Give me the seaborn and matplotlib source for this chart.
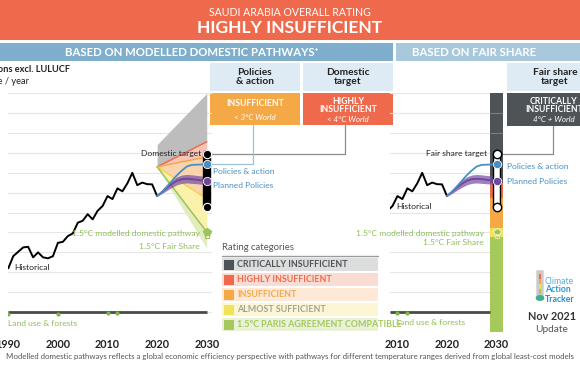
import numpy as np
import pandas as pd
import seaborn as sns
import matplotlib.pyplot as plt
from matplotlib.patches import Rectangle, FancyBboxPatch
from matplotlib.lines import Line2D

# --- data (MtCO2e / year) ---
hist_years = list(range(1990, 2021))
hist_vals = [220, 281, 303, 325, 328, 275, 300, 275, 270, 281,
             348, 353, 382, 395, 449, 459, 492, 466, 509, 533,
             583, 568, 622, 607, 647, 700, 638, 651, 643, 642, 583]

proj_years = list(range(2020, 2031))
policy_vals = [583, 605, 632, 660, 688, 712, 732, 740, 741, 742, 742]
planned_mid = [583, 604, 626, 645, 660, 668, 670, 668, 665, 662, 660]
planned_lo = [583, 596, 612, 627, 640, 647, 649, 647, 645, 643, 641]
planned_hi = [583, 612, 640, 663, 680, 689, 692, 690, 687, 684, 680]

fan_years = [2020, 2030]
grey_hi = [842, 1100]
grey_lo = [730, 856]
red_lo = [730, 780]
orange_lo = [730, 570]
yellow_lo = [730, 403]
green_lo = [730, 320]

target_range = [529, 797]  # domestic target and fair share target (same values)
marker_15_domestic = 403
marker_15_fair = 380

fs_edges = [1100, 648, 571, 425, 378, -100]  # fair share bar at 2030

lu_years = [1990, 2000, 2010, 2012]
lu_vals = [-12, -12, -7, -7]

cat_names = ["CRITICALLY INSUFFICIENT", "HIGHLY INSUFFICIENT", "INSUFFICIENT",
             "ALMOST SUFFICIENT", "1.5°C PARIS AGREEMENT COMPATIBLE"]
cat_colors = ["#4d5357", "#ef6a4c", "#f4a946", "#f0e35a", "#a5c95a"]
cat_pale = ["#dcdddd", "#fbdcd3", "#fde9d6", "#fcf6d5", "#e9f1d9"]
cat_text = ["#4d5357", "#ef6a4c", "#f4a946", "#a3a396", "#a5c95a"]

left_ticks = [1990, 2000, 2010, 2020, 2030]
right_ticks = [2010, 2020, 2030]

# --- style ---
sns.set_theme(style="white")
plt.rcParams["font.family"] = ["Lato", "DejaVu Sans"]

W, H = 580, 366
BLUE = "#4a8fc3"
PURPLE = "#6f4a9c"
GREEN = "#8dbf57"
DARK = "#222222"


def fx(x):
    return x / W


def fy(y):
    return 1 - y / H


fig = plt.figure(figsize=(5.8, 3.66), dpi=100)


def box(x0, y0, x1, y1, color, z=0):
    fig.add_artist(Rectangle((fx(x0), fy(y1)), (x1 - x0) / W, (y1 - y0) / H,
                             transform=fig.transFigure, color=color, lw=0, zorder=z))


def ftext(x, y, s, **kw):
    kw.setdefault("ha", "center")
    kw.setdefault("va", "center")
    fig.text(fx(x), fy(y), s, **kw)


# header
box(0, 0, 580, 40, "#ef6a4c")
ftext(290, 13, "SAUDI ARABIA OVERALL RATING", color="white", fontsize=7.6)
ftext(290, 28, "HIGHLY INSUFFICIENT", color="white", fontsize=12.5, fontweight="bold")
box(0, 43, 393, 61, "#7eaecb")
box(396, 43, 580, 61, "#a8c8dc")
ftext(192, 52, "BASED ON MODELLED DOMESTIC PATHWAYS⁺", color="white", fontsize=8.2, fontweight="bold")
ftext(474, 52, "BASED ON FAIR SHARE", color="white", fontsize=8.2, fontweight="bold")

# rating boxes
box(210, 63, 300, 91, "#deeaf4")
box(303, 63, 393, 91, "#deeaf4")
box(507, 63, 580, 91, "#deeaf4")
ftext(255, 77, "Policies\n& action", color=DARK, fontsize=7.3, fontweight="bold", linespacing=1.1)
ftext(348, 77, "Domestic\ntarget", color=DARK, fontsize=7.3, fontweight="bold", linespacing=1.1)
ftext(555, 77, "Fair share\ntarget", color=DARK, fontsize=7.3, fontweight="bold", linespacing=1.1)
box(210, 93, 300, 125, "#f4a946")
box(303, 93, 393, 125, "#ef6a4c")
box(507, 93, 580, 126, "#4d5357")
ftext(255, 104, "INSUFFICIENT", color="white", fontsize=6.2, fontweight="bold")
ftext(255, 118, "< 3°C World", color="white", fontsize=5.8, style="italic")
ftext(348, 101, "HIGHLY", color="white", fontsize=6.2, fontweight="bold")
ftext(348, 110, "INSUFFICIENT", color="white", fontsize=6.2, fontweight="bold")
ftext(348, 119, "< 4°C World", color="white", fontsize=5.8, style="italic")
ftext(554, 101, "CRITICALLY", color="white", fontsize=6.2, fontweight="bold")
ftext(554, 110, "INSUFFICIENT", color="white", fontsize=6.2, fontweight="bold")
ftext(554, 119, "4°C + World", color="white", fontsize=5.8, style="italic")

# axis label (cut at the left edge as in the original)
ftext(70, 70, "Emissions excl. LULUCF", ha="right", color=DARK, fontsize=6.7, fontweight="bold")
ftext(29, 82, "MtCO₂e / year", ha="right", color=DARK, fontsize=6.7)

# --- axes ---
bot, hgt = 1 - 331.9 / H, 238.6 / H
ax = fig.add_axes([fx(8.3), bot, 203.4 / W, hgt])
ax2 = fig.add_axes([fx(390), bot, 113 / W, hgt])

for a, lo, hi, ticks in [(ax, 1990, 2031, left_ticks), (ax2, 2008.5, 2031.3, right_ticks)]:
    a.set_xlim(lo, hi)
    a.set_ylim(-100, 1100)
    a.set_yticks(range(-100, 1101, 100))
    a.set_yticklabels([])
    a.set_xticks(ticks)
    a.set_xticklabels([str(t) for t in ticks], fontsize=7.8, fontweight="bold", color=DARK)
    a.tick_params(length=0, pad=5)
    a.grid(axis="y", color="#e6e6e6", lw=0.8)
    a.set_axisbelow(True)
    a.patch.set_alpha(0)
    for s in a.spines.values():
        s.set_visible(False)

# left panel: category fan
ax.fill_between(fan_years, grey_lo, grey_hi, color="#bdbdbd", lw=0, zorder=1)
ax.fill_between(fan_years, red_lo, grey_lo, color="#f7c4b7", lw=0, zorder=1)
ax.fill_between(fan_years, orange_lo, red_lo, color="#fad4ae", lw=0, zorder=1)
ax.fill_between(fan_years, yellow_lo, orange_lo, color="#faf1ab", lw=0, zorder=1)
ax.fill_between(fan_years, green_lo, yellow_lo, color="#e3ecbf", lw=0, zorder=1)
for edge, c in [(grey_lo, "#ef6a4c"), (red_lo, "#f4a946"), (orange_lo, "#f0d64e"), (yellow_lo, "#9cc45a")]:
    ax.plot(fan_years, edge, color=c, lw=1.1, zorder=2)

# land use and zero line
for a, x_end in [(ax, 2030), (ax2, 2028.7)]:
    a.hlines(0, a.get_xlim()[0], x_end, color="#4a4a4a", lw=2, zorder=2)
    sns.scatterplot(x=lu_years, y=lu_vals, ax=a, color="#7ab648", s=9, lw=0, zorder=3, legend=False)

# right panel bar
for top, bottom, c in zip(fs_edges[:-1], fs_edges[1:], cat_colors):
    ax2.bar(2030, top - bottom, bottom=bottom, width=2.6, color=c, lw=0, zorder=1)
ax2.hlines(range(900, 1100, 100), 2028.7, 2031.3, color="#7a7f83", lw=0.8, zorder=1.5)

# historical and projections
for a in (ax, ax2):
    sns.lineplot(x=hist_years, y=hist_vals, ax=a, color="black", lw=1.4, zorder=4)
    a.fill_between(proj_years, planned_lo, planned_hi, color="#7a4fa6", alpha=0.72, lw=0, zorder=4)
    sns.lineplot(x=proj_years, y=planned_mid, ax=a, color=PURPLE, lw=1.4, zorder=5)
    sns.lineplot(x=proj_years, y=policy_vals, ax=a, color=BLUE, lw=1.3, zorder=5)

# target bars
ax.plot([2030, 2030], target_range, color="black", lw=6, solid_capstyle="round", zorder=6)
ax.plot([2030, 2030], target_range, ls="none", marker="o", ms=6, mfc="black", mec="white", mew=0.8, zorder=7)
ax2.plot([2030, 2030], target_range, color="black", lw=6, solid_capstyle="round", zorder=6)
ax2.plot([2030, 2030], target_range, color="white", lw=4, solid_capstyle="round", zorder=6)
ax2.plot([2030, 2030], target_range, ls="none", marker="o", ms=6, mfc="white", mec="black", mew=1, zorder=7)
for a in (ax, ax2):
    a.plot(2030, policy_vals[-1], marker="o", ms=6, color=BLUE, mec="white", mew=0.6, zorder=8, clip_on=False)
    a.plot(2030, planned_mid[-1], marker="o", ms=6, color=PURPLE, mec="white", mew=0.6, zorder=8, clip_on=False)
ax.plot(2030, marker_15_domestic, marker="p", ms=6, color="#9cc45a", zorder=8)
ax.plot(2030, marker_15_fair, marker="s", ms=3.5, mfc="none", mec="#9cc45a", mew=0.8, zorder=8)
ax2.plot(2030, marker_15_domestic, marker="p", ms=6, color="#9cc45a", mec="white", mew=0.5, zorder=8)
ax2.plot(2030, marker_15_fair, marker="s", ms=3.5, mfc="none", mec="#d9e9b8", mew=0.8, zorder=8)

# connector lines (drawn in pixels)
def px_to_data(a, x, y):
    return a.transData.inverted().transform((x, H - y))


def connector(a, x_box, y_box, val, x_end, color):
    xb, yb = px_to_data(a, x_box, y_box)
    a.plot([xb, xb, x_end], [yb, val, val], color=color, lw=0.9, zorder=3, clip_on=False)


connector(ax, 345, 125, target_range[1], 2030, "#8a8a8a")
connector(ax, 253, 125, policy_vals[-1], 2030, "#9cc3de")
connector(ax2, 553, 126, target_range[1], 2031.3, "#8a8a8a")

# labels in panels
lab = dict(fontsize=6.1, va="center", zorder=9)
ax.text(2028.9, target_range[1], "Domestic target", ha="right", color=DARK, **lab)
ax.text(2031.2, 709, "Policies & action", ha="left", color=BLUE, **lab)
ax.text(2031.2, 638, "Planned Policies", ha="left", color=BLUE, **lab)
ax.text(2028.6, 395, "1.5°C modelled domestic pathway", ha="right", color=GREEN, **lab)
ax.text(2028.6, 332, "1.5°C Fair Share", ha="right", color=GREEN, **lab)
ax.text(1991.1, 223, "Historical", ha="left", color=DARK, **lab)
ax.text(1990, -57, "Land use & forests", ha="left", color=GREEN, **lab)

ax2.text(2028.1, target_range[1], "Fair share target", ha="right", color=DARK, **lab)
ax2.text(2032.1, 730, "Policies & action", ha="left", color=BLUE, **lab)
ax2.text(2032.1, 658, "Planned Policies", ha="left", color=BLUE, **lab)
ax2.text(2009.8, 529, "Historical", ha="left", color=DARK, **lab)
ax2.text(2027.5, 397, "1.5°C modelled domestic pathway", ha="right", color=GREEN, **lab)
ax2.text(2027.5, 352, "1.5°C Fair Share", ha="right", color=GREEN, **lab)
ax2.text(2009.8, -55, "Land use & forests", ha="left", color=GREEN, **lab)

# rating legend
ftext(222, 248, "Rating categories", ha="left", color="#555555", fontsize=6.8)
fig.add_artist(Line2D([fx(222), fx(378)], [fy(256), fy(256)], transform=fig.transFigure, color="#9a9a9a", lw=1))
for i, (name, c, pale, tc) in enumerate(zip(cat_names, cat_colors, cat_pale, cat_text)):
    yc = 264.5 + i * 15
    box(222, yc - 6.3, 378, yc + 6.3, pale)
    box(223.5, yc - 5, 233.5, yc + 5, c)
    ftext(237, yc, name, ha="left", color=tc, fontsize=6.4, fontweight="bold")

# logo (small thermometer)
fig.add_artist(FancyBboxPatch((fx(537.5), fy(297)), 5 / W, 26 / H, boxstyle="round,pad=0.002",
                              transform=fig.transFigure, fc="#c9c9c9", ec="none", zorder=1))
for i, c in enumerate(["#ef6a4c", "#f4a946", "#f0e35a", "#a5c95a"]):
    box(538.8, 274 + i * 5, 541.2, 279 + i * 5, c, z=2)
fig.add_artist(plt.Circle((fx(540), fy(298)), 3.6 / W, transform=fig.transFigure, color="#3fb08f", zorder=3))
ftext(545, 281, "Climate", ha="left", color="#5aaee0", fontsize=6.3)
ftext(545, 290, "Action", ha="left", color="#2f9ad3", fontsize=6.3, fontweight="bold")
ftext(545, 299, "Tracker", ha="left", color="#2f8ac8", fontsize=6.3, fontweight="bold")
ftext(552, 317, "Nov 2021", color="#333333", fontsize=7.8, fontweight="bold")
ftext(552, 329, "Update", color="#555555", fontsize=7.3)

# footer
ftext(290, 357, "Modelled domestic pathways reflects a global economic efficiency perspective with pathways "
                "for different temperature ranges derived from global least-cost models",
      color="#555555", fontsize=5.65)

fig.savefig("out.png", dpi=100)
